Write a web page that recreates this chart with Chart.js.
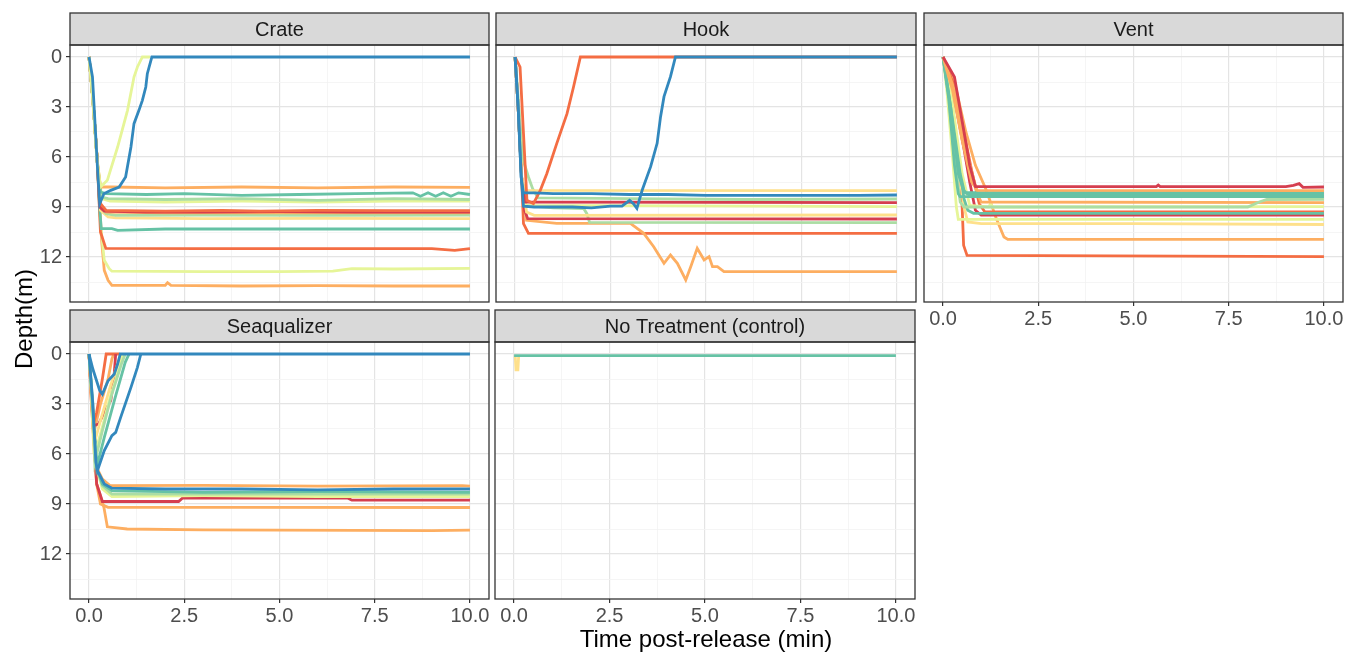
<!DOCTYPE html>
<html>
<head>
<meta charset="utf-8">
<script src="https://cdn.jsdelivr.net/npm/chart.js@4.4.0/dist/chart.umd.min.js"></script>
<style>
  body { margin: 0; background: #fff; width: 1346px; height: 654px; overflow: hidden; position: relative; font-family: "Liberation Sans", Arial, sans-serif; }
  canvas { position: absolute; }
  .xtitle { position: absolute; left: 506px; width: 400px; top: 627px; text-align: center; font-size: 24px; line-height: 24px; color: #000; }
  .ytitle { position: absolute; left: -76px; width: 200px; top: 307px; text-align: center; font-size: 24px; line-height: 24px; color: #000; transform: rotate(-90deg); }
</style>
</head>
<body>
<canvas id="crate"></canvas>
<canvas id="hook"></canvas>
<canvas id="vent"></canvas>
<canvas id="seaq"></canvas>
<canvas id="noTreat"></canvas>
<div class="xtitle">Time post-release (min)</div>
<div class="ytitle">Depth(m)</div>
<script>
// Spectral palette
const R = '#D53E4F', OR = '#F46D43', O = '#FDAE61', Y = '#FEE08B',
      YG = '#E6F598', LG = '#ABDDA4', T = '#66C2A5', B = '#3288BD';

// axis breaks
const xTicks = [0, 1.25, 2.5, 3.75, 5, 6.25, 7.5, 8.75, 10];
const yTicks = [0, 1.5, 3, 4.5, 6, 7.5, 9, 10.5, 12, 13.5];

// ---- Crate ----
const crateColors = [B, YG, O, T, LG, YG, OR, R, O, LG, Y, T, OR, YG, O];
const crateTimes = [
  [0, 0.09, 0.22, 0.28, 0.39, 0.57, 0.79, 0.96, 1.10, 1.18, 1.31, 1.40, 1.49, 1.53, 1.65, 10],
  [0, 0.1, 0.2, 0.3, 0.48, 0.75, 1.01, 1.18, 1.27, 1.40, 1.6],
  [0, 0.1, 0.22, 0.3, 0.6, 2, 4, 6, 8, 10],
  [0, 0.1, 0.22, 0.3, 0.45, 1.5, 2.5, 4, 5.5, 7, 8.5, 8.7, 8.9, 9.1, 9.3, 9.5, 9.7, 10],
  [0, 0.1, 0.22, 0.32, 0.5, 2, 4, 6, 8, 10],
  [0, 0.1, 0.22, 0.34, 0.55, 2, 4, 6, 8, 10],
  [0, 0.1, 0.22, 0.3, 0.45, 2, 3.5, 4.5, 6, 8, 10],
  [0, 0.1, 0.22, 0.28, 0.4, 1.5, 3, 5, 7, 10],
  [0, 0.1, 0.22, 0.28, 0.35, 0.45, 2, 4, 6, 8, 10],
  [0, 0.1, 0.22, 0.3, 0.45, 0.7, 3, 6, 10],
  [0, 0.1, 0.22, 0.3, 0.5, 0.7, 3, 6, 10],
  [0, 0.1, 0.22, 0.27, 0.32, 0.6, 0.75, 2, 5, 8, 10],
  [0, 0.1, 0.22, 0.3, 0.44, 3, 6, 9, 9.6, 10],
  [0, 0.1, 0.22, 0.3, 0.4, 0.53, 0.6, 3, 5, 6.4, 6.9, 8, 10],
  [0, 0.1, 0.22, 0.33, 0.4, 0.5, 0.6, 2.0, 2.06, 2.15, 4, 6, 8, 10]
];
const crateDepths = [
  [0, 1.2, 6.6, 8.8, 8.2, 8.0, 7.8, 7.2, 5.4, 4.0, 3.2, 2.6, 1.8, 1.0, 0, 0],
  [0, 2.6, 6.0, 7.8, 7.4, 5.4, 3.2, 1.2, 0.6, 0, 0],
  [0, 2.5, 6.3, 7.8, 7.8, 7.85, 7.8, 7.85, 7.8, 7.82],
  [0, 2.5, 6.4, 8.1, 8.2, 8.25, 8.2, 8.3, 8.25, 8.2, 8.15, 8.35, 8.15, 8.35, 8.15, 8.35, 8.15, 8.25],
  [0, 2.5, 6.4, 8.4, 8.5, 8.55, 8.5, 8.6, 8.5, 8.55],
  [0, 2.5, 6.4, 8.5, 8.65, 8.7, 8.65, 8.7, 8.65, 8.65],
  [0, 2.5, 6.4, 8.8, 9.2, 9.25, 9.2, 9.25, 9.2, 9.22, 9.22],
  [0, 2.5, 6.4, 9.0, 9.25, 9.3, 9.3, 9.28, 9.3, 9.3],
  [0, 2.5, 6.4, 8.7, 9.0, 9.3, 9.35, 9.35, 9.35, 9.35, 9.35],
  [0, 2.5, 6.4, 9.0, 9.4, 9.5, 9.48, 9.5, 9.48],
  [0, 2.5, 6.4, 9.2, 9.6, 9.65, 9.7, 9.68, 9.7],
  [0, 2.5, 6.4, 8.8, 10.3, 10.3, 10.4, 10.32, 10.32, 10.32, 10.32],
  [0, 2.5, 6.4, 10.5, 11.48, 11.5, 11.5, 11.5, 11.6, 11.5],
  [0, 2.5, 6.4, 10.0, 12.2, 12.7, 12.85, 12.88, 12.88, 12.85, 12.7, 12.72, 12.68],
  [0, 2.5, 6.4, 11.0, 12.8, 13.4, 13.7, 13.7, 13.54, 13.7, 13.74, 13.72, 13.74, 13.74]
];

// ---- Hook ----
const hookColors = [B, B, OR, Y, LG, R, YG, Y, R, LG, O, OR];
const hookTimes = [
  [0, 0.08, 0.16, 0.22, 0.5, 1.0, 1.5, 2.0, 2.5, 2.8, 3.0, 3.1, 3.19, 3.25, 3.33, 3.55, 3.72, 3.81, 3.9, 4.07, 4.2, 10],
  [0, 0.08, 0.16, 0.22, 0.5, 1, 2, 3, 4, 5, 6, 7, 8, 9, 10],
  [0, 0.13, 0.22, 0.31, 0.48, 0.66, 0.83, 1.09, 1.36, 1.53, 1.71, 10],
  [0, 0.08, 0.17, 0.25, 10],
  [0, 0.1, 0.2, 0.35, 0.46, 0.6, 3, 6, 10],
  [0, 0.08, 0.17, 0.27, 10],
  [0, 0.08, 0.17, 0.28, 10],
  [0, 0.08, 0.17, 0.3, 0.5, 10],
  [0, 0.08, 0.17, 0.25, 0.33, 10],
  [0, 0.08, 0.17, 0.25, 1.0, 1.8, 1.88, 1.95, 10],
  [0, 0.08, 0.17, 0.3, 1.09, 3.02, 3.37, 3.63, 3.9, 4.07, 4.25, 4.47, 4.6, 4.77, 4.95, 5.08, 5.17, 5.3, 5.47, 10],
  [0, 0.08, 0.17, 0.22, 0.35, 10]
];
const hookDepths = [
  [0, 3, 7.2, 8.95, 9.0, 9.0, 9.0, 9.05, 8.95, 8.95, 8.6, 8.8, 9.08, 8.6, 7.98, 6.58, 5.18, 3.58, 2.38, 1.18, 0, 0],
  [0, 3, 7.2, 8.15, 8.15, 8.2, 8.2, 8.25, 8.25, 8.3, 8.3, 8.3, 8.3, 8.3, 8.28],
  [0, 0.6, 4.6, 8.6, 8.8, 8.0, 7.0, 5.2, 3.4, 1.8, 0, 0],
  [0, 3, 7.2, 8.0, 8.02],
  [0, 3, 6.1, 7.2, 7.9, 8.45, 8.5, 8.55, 8.52],
  [0, 3, 7.2, 8.7, 8.74],
  [0, 3, 7.2, 8.9, 8.98],
  [0, 3, 7.2, 9.3, 9.5, 9.48],
  [0, 3, 7.2, 9.2, 9.7, 9.72],
  [0, 3, 7.2, 8.9, 9.05, 9.1, 9.4, 9.92, 9.94],
  [0, 3, 7.2, 9.8, 9.98, 9.98, 10.58, 11.38, 12.38, 11.88, 12.38, 13.38, 12.58, 11.48, 12.18, 11.98, 12.58, 12.58, 12.88, 12.88],
  [0, 3, 7.2, 10.0, 10.58, 10.58]
];

// ---- Vent ----
const ventColors = [R, O, T, T, T, LG, O, YG, T, R, OR, YG, Y, O, OR];
const ventTimes = [
  [0, 0.3, 0.55, 0.7, 0.85, 5.6, 5.65, 5.7, 9.0, 9.2, 9.35, 9.45, 10],
  [0, 0.25, 0.5, 0.75, 0.9, 10],
  [0, 0.2, 0.45, 0.55, 0.6, 10],
  [0, 0.2, 0.4, 0.55, 0.7, 10],
  [0, 0.15, 0.3, 0.4, 0.45, 10],
  [0, 0.15, 0.3, 0.45, 0.55, 1.0, 8.0, 8.3, 8.5, 10],
  [0, 0.3, 0.6, 0.9, 1.0, 10],
  [0, 0.2, 0.5, 0.7, 1.2, 1.25, 1.3, 10],
  [0, 0.2, 0.4, 0.55, 0.65, 0.8, 10],
  [0, 0.3, 0.55, 0.7, 0.85, 1.0, 10],
  [0, 0.25, 0.5, 0.75, 0.95, 1.1, 10],
  [0, 0.1, 0.25, 0.35, 0.4, 10],
  [0, 0.2, 0.4, 0.55, 0.65, 1.0, 5, 10],
  [0, 0.3, 0.6, 0.85, 1.12, 1.4, 1.6, 1.7, 10],
  [0, 0.2, 0.45, 0.5, 0.54, 0.63, 10]
];
const ventDepths = [
  [0, 1.2, 4.5, 6.5, 7.78, 7.78, 7.68, 7.78, 7.78, 7.7, 7.6, 7.82, 7.8],
  [0, 2, 5, 7.5, 8.0, 8.02],
  [0, 3, 7, 8.0, 8.14, 8.14],
  [0, 3, 7, 8.1, 8.28, 8.28],
  [0, 2.5, 6.5, 8.2, 8.38, 8.38],
  [0, 2.5, 6, 8.7, 9.0, 9.0, 9.0, 8.7, 8.55, 8.54],
  [0, 2, 5.5, 8.2, 8.7, 8.74],
  [0, 2, 7, 8.9, 9.0, 8.8, 9.0, 8.98],
  [0, 2.5, 6, 8.5, 9.2, 9.38, 9.38],
  [0, 2.5, 5.5, 7.5, 9.2, 9.48, 9.48],
  [0, 1.5, 4, 6.8, 8.8, 9.3, 9.3],
  [0, 2, 6, 9.0, 9.74, 9.74],
  [0, 2.5, 6.5, 9.0, 9.9, 10.0, 10.0, 10.05],
  [0, 1.5, 4.5, 6.5, 7.9, 9.7, 10.8, 10.94, 10.94],
  [0, 2, 7, 8.9, 11.3, 11.9, 11.98]
];

// ---- Seaqualizer ----
const seaqColors = [B, B, T, LG, YG, Y, R, OR, O, B, O, T, LG, YG, R, O, O];
const seaqTimes = [
  [0, 0.1, 0.28, 0.35, 0.5, 0.66, 0.75, 0.82, 10],
  [0, 0.1, 0.18, 0.22, 0.4, 0.6, 0.7, 0.83, 1.1, 1.27, 1.36],
  [0, 0.1, 0.2, 0.4, 0.7, 0.95, 1.05],
  [0, 0.1, 0.15, 0.35, 0.6, 0.85, 0.95],
  [0, 0.08, 0.15, 0.3, 0.55, 0.8, 0.9],
  [0, 0.07, 0.12, 0.3, 0.55, 0.75, 0.85],
  [0, 0.05, 0.12, 0.25, 0.4, 0.57, 0.65, 0.7],
  [0, 0.05, 0.1, 0.2, 0.35, 0.45, 0.8],
  [0, 0.08, 0.15, 0.3, 0.5, 0.6, 0.65],
  [0, 0.12, 0.22, 0.4, 0.6, 2, 4, 6, 8, 10],
  [0, 0.1, 0.2, 0.35, 0.55, 3, 6, 9.8, 10],
  [0, 0.1, 0.2, 0.35, 0.6, 3, 6, 10],
  [0, 0.1, 0.2, 0.35, 0.6, 3, 6, 10],
  [0, 0.1, 0.2, 0.35, 0.6, 3, 6, 10],
  [0, 0.1, 0.2, 0.35, 2.35, 2.45, 6.8, 6.9, 10],
  [0, 0.1, 0.2, 0.3, 0.5, 4, 10],
  [0, 0.1, 0.2, 0.3, 0.39, 0.48, 1.0, 3, 9, 10]
];
const seaqDepths = [
  [0, 0.9, 2.2, 2.41, 1.6, 1.22, 0.6, 0, 0],
  [0, 3, 6.5, 7.0, 5.8, 4.9, 4.7, 3.8, 2.0, 0.8, 0],
  [0, 3.5, 6.8, 5.0, 2.5, 0.5, 0],
  [0, 3, 6.5, 4.6, 2.4, 0.6, 0],
  [0, 3, 6, 4.8, 2.6, 0.8, 0],
  [0, 3, 5.5, 4, 2, 0.6, 0],
  [0, 2, 4.3, 4.2, 3.5, 2.8, 1.5, 0],
  [0, 2.5, 4.3, 3.5, 1.5, 0, 0],
  [0, 3, 4.5, 3.0, 1.5, 0.3, 0],
  [0, 4, 7, 7.8, 8.05, 8.1, 8.1, 8.15, 8.1, 8.1],
  [0, 3.5, 6.8, 7.5, 7.9, 7.88, 7.93, 7.9, 7.93],
  [0, 3.5, 6.8, 7.8, 8.2, 8.3, 8.25, 8.3],
  [0, 3.5, 6.8, 7.9, 8.4, 8.4, 8.4, 8.4],
  [0, 3.5, 6.8, 8.1, 8.55, 8.5, 8.55, 8.55],
  [0, 4, 7.8, 8.85, 8.85, 8.65, 8.65, 8.77, 8.77],
  [0, 4, 7.8, 9.0, 9.2, 9.2, 9.21],
  [0, 4, 7.8, 8.5, 9.2, 10.37, 10.5, 10.55, 10.6, 10.57]
];

// ---- No Treatment (control) ----
const noTreatColors = [T, Y];
const noTreatTimes = [
  [0, 10],
  [0.03, 0.05, 0.1, 0.12]
];
const noTreatDepths = [
  [0.1, 0.1],
  [0.1, 0.95, 0.95, 0.1]
];

Chart.defaults.font.family = '"Liberation Sans", Arial, sans-serif';

const STRIP_H = 32;
const stripPlugin = {
  id: 'strip',
  afterDraw(chart, args, opts) {
    const { ctx, chartArea: a } = chart;
    ctx.save();
    ctx.fillStyle = '#d9d9d9';
    ctx.fillRect(a.left, a.top - STRIP_H, a.right - a.left, STRIP_H);
    ctx.strokeStyle = '#333333';
    ctx.lineWidth = 1.3;
    ctx.strokeRect(a.left, a.top - STRIP_H, a.right - a.left, STRIP_H);
    ctx.strokeRect(a.left, a.top, a.right - a.left, a.bottom - a.top);
    ctx.fillStyle = '#1a1a1a';
    ctx.font = '20px "Liberation Sans", Arial, sans-serif';
    ctx.textAlign = 'center';
    ctx.textBaseline = 'middle';
    ctx.fillText(opts.text, (a.left + a.right) / 2, a.top - STRIP_H / 2 + 1);
    ctx.restore();
  }
};

function isMajorX(v) { return Math.abs(v / 2.5 - Math.round(v / 2.5)) < 1e-6; }
function isMajorY(v) { return Math.abs(v / 3 - Math.round(v / 3)) < 1e-6; }

function drawPanel(id, title, times, depths, colors, L, R_, top, bottom, yLab, xLab) {
  const axW = yLab ? 70 : 0;
  const axH = xLab ? 30 : 2;
  const cv = document.getElementById(id);
  cv.width = (R_ - L) + axW + 4;
  cv.height = (bottom - top) + 1 + axH;
  cv.style.left = (L - axW - 2) + 'px';
  cv.style.top = (top - 1) + 'px';

  const datasets = times.map((t, i) => ({
    data: t.map((x, j) => ({ x: x, y: depths[i][j] })),
    borderColor: colors[i],
    borderWidth: 2.8,
    pointRadius: 0,
    tension: 0,
    fill: false
  }));

  new Chart(cv, {
    type: 'line',
    data: { datasets: datasets },
    plugins: [stripPlugin],
    options: {
      responsive: false,
      animation: false,
      devicePixelRatio: 1,
      layout: { padding: { left: 2, right: 2, top: STRIP_H + 1, bottom: 0 } },
      plugins: { legend: { display: false }, title: { display: false }, tooltip: { enabled: false }, strip: { text: title } },
      scales: {
        x: {
          type: 'linear', min: -0.5, max: 10.5,
          afterBuildTicks: s => { s.ticks = xTicks.map(v => ({ value: v })); },
          afterFit: s => { s.height = axH; s.paddingLeft = 0; s.paddingRight = 0; },
          border: { display: false },
          grid: {
            color: c => (c.tick && isMajorX(c.tick.value)) ? '#e4e4e4' : '#f3f3f3',
            lineWidth: c => (c.tick && isMajorX(c.tick.value)) ? 1.2 : 0.8,
            drawTicks: xLab, tickLength: 4, tickWidth: 1.2,
            tickColor: c => (c.tick && isMajorX(c.tick.value)) ? '#333333' : 'rgba(0,0,0,0)'
          },
          ticks: {
            display: xLab, autoSkip: false, maxRotation: 0, padding: 1,
            color: '#4d4d4d', font: { size: 20 },
            callback: v => isMajorX(v) ? v.toFixed(1) : ''
          }
        },
        y: {
          type: 'linear', reverse: true, min: -0.72, max: 14.7,
          afterBuildTicks: s => { s.ticks = yTicks.map(v => ({ value: v })); },
          afterFit: s => { s.width = axW; s.paddingTop = 0; s.paddingBottom = 0; },
          border: { display: false },
          grid: {
            color: c => (c.tick && isMajorY(c.tick.value)) ? '#e4e4e4' : '#f3f3f3',
            lineWidth: c => (c.tick && isMajorY(c.tick.value)) ? 1.2 : 0.8,
            drawTicks: yLab, tickLength: 4, tickWidth: 1.2,
            tickColor: c => (c.tick && isMajorY(c.tick.value)) ? '#333333' : 'rgba(0,0,0,0)'
          },
          ticks: {
            display: yLab, autoSkip: false, padding: 4,
            color: '#4d4d4d', font: { size: 20 },
            callback: v => isMajorY(v) ? String(v) : ''
          }
        }
      }
    }
  });
}

drawPanel('crate', 'Crate', crateTimes, crateDepths, crateColors, 70, 489, 13, 302, true, false);
drawPanel('hook', 'Hook', hookTimes, hookDepths, hookColors, 496, 916, 13, 302, false, false);
drawPanel('vent', 'Vent', ventTimes, ventDepths, ventColors, 924, 1343, 13, 302, false, true);
drawPanel('seaq', 'Seaqualizer', seaqTimes, seaqDepths, seaqColors, 70, 489, 310, 599, true, true);
drawPanel('noTreat', 'No Treatment (control)', noTreatTimes, noTreatDepths, noTreatColors, 495, 915, 310, 599, false, true);
</script>
</body>
</html>
